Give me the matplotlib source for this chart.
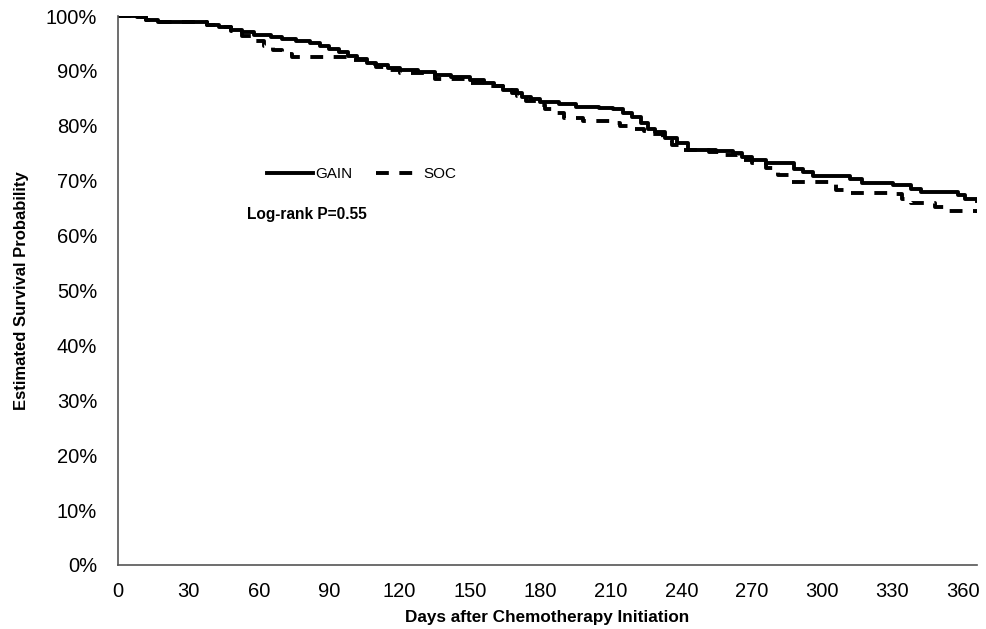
import matplotlib
matplotlib.use("Agg")
import matplotlib.pyplot as plt

plt.rcParams['font.family'] = ['Liberation Sans', 'DejaVu Sans']

# GAIN (solid) Kaplan-Meier estimate: days, survival %
gain_days = [0, 8, 12, 17, 38, 43, 48, 53, 58, 65, 70, 76, 82, 86, 90, 94, 98, 102,
             106, 110, 115, 120, 128, 135, 142, 150, 156, 160, 164, 168, 172, 176, 180,
             188, 195, 205, 211, 215, 219, 223, 226, 229, 233, 238, 243, 255, 262, 266,
             270, 276, 288, 292, 296, 312, 317, 330, 338, 342, 358, 361, 366]
gain_surv = [100, 99.8, 99.3, 98.9, 98.4, 98.0, 97.5, 97.0, 96.6, 96.2, 95.9, 95.5, 95.0,
             94.5, 94.0, 93.5, 92.8, 92.2, 91.5, 91.0, 90.6, 90.2, 89.8, 89.3, 88.9, 88.4,
             87.8, 87.2, 86.5, 85.9, 85.3, 84.8, 84.3, 83.9, 83.5, 83.3, 83.0, 82.4, 81.6,
             80.5, 79.5, 78.8, 77.8, 76.8, 75.6, 75.4, 75.0, 74.4, 73.8, 73.2, 72.2, 71.5,
             70.8, 70.4, 69.5, 69.2, 68.5, 68.0, 67.4, 66.6, 66.3]

# SOC (dashed) Kaplan-Meier estimate: days, survival %
soc_days = [0, 8, 12, 17, 38, 43, 48, 53, 57, 62, 66, 70, 74, 100, 106, 110, 115, 120,
            135, 150, 158, 164, 170, 174, 178, 182, 186, 190, 198, 210, 214, 218, 224,
            228, 232, 236, 240, 252, 257, 264, 270, 276, 281, 286, 303, 306, 311, 330,
            334, 338, 348, 352, 366]
soc_surv = [100, 99.8, 99.3, 98.9, 98.4, 98.0, 97.3, 96.3, 95.5, 94.6, 93.8, 93.0, 92.5,
            92.0, 91.3, 90.7, 90.2, 89.6, 88.5, 87.8, 87.2, 86.5, 85.5, 84.6, 83.8, 83.0,
            82.3, 81.5, 80.8, 80.5, 79.9, 79.5, 79.1, 78.5, 77.5, 76.5, 75.6, 75.3, 74.6,
            73.8, 73.3, 72.3, 71.0, 69.8, 69.6, 68.3, 67.8, 67.6, 66.7, 65.9, 65.2, 64.5, 64.2]

x_ticks = list(range(0, 361, 30))
y_ticks = list(range(0, 101, 10))
series_names = ["GAIN", "SOC"]

fig = plt.figure(figsize=(9.87, 6.29), dpi=100)
ax = fig.add_axes([118/987, 1 - 565/629, (977 - 118)/987, (565 - 16)/629])

ax.plot(gain_days, gain_surv, drawstyle='steps-post', color='black', lw=2.8,
        label=series_names[0])
ax.plot(soc_days, soc_surv, drawstyle='steps-post', color='black', lw=2.8,
        dashes=(3.3, 2.7), label=series_names[1])

ax.set_xlim(0, 366)
ax.set_ylim(0, 100)
ax.set_xticks(x_ticks)
ax.set_yticks(y_ticks)
ax.set_yticklabels([f"{v}%" for v in y_ticks])
ax.tick_params(axis='both', length=0, labelsize=14.5)
ax.tick_params(axis='x', pad=12)
ax.tick_params(axis='y', pad=15)

for s in ['top', 'right']:
    ax.spines[s].set_visible(False)
for s in ['left', 'bottom']:
    ax.spines[s].set_color('#555555')
    ax.spines[s].set_linewidth(1.2)

ax.set_xlabel("Days after Chemotherapy Initiation", fontsize=12.3, fontweight='bold', labelpad=7)
ax.set_ylabel("Estimated Survival Probability", fontsize=12, fontweight='bold', labelpad=12)

ax.legend(loc='center left', bbox_to_anchor=(0.174, 0.712), ncol=2, frameon=False,
          fontsize=11, handlelength=3.0, handletextpad=0.15, columnspacing=1.5,
          borderaxespad=0, borderpad=0)

ax.text(0.150, 0.639, "Log-rank P=0.55", transform=ax.transAxes, fontsize=11.2,
        fontweight='bold', va='center', ha='left')

fig.savefig("out.png", dpi=100)
